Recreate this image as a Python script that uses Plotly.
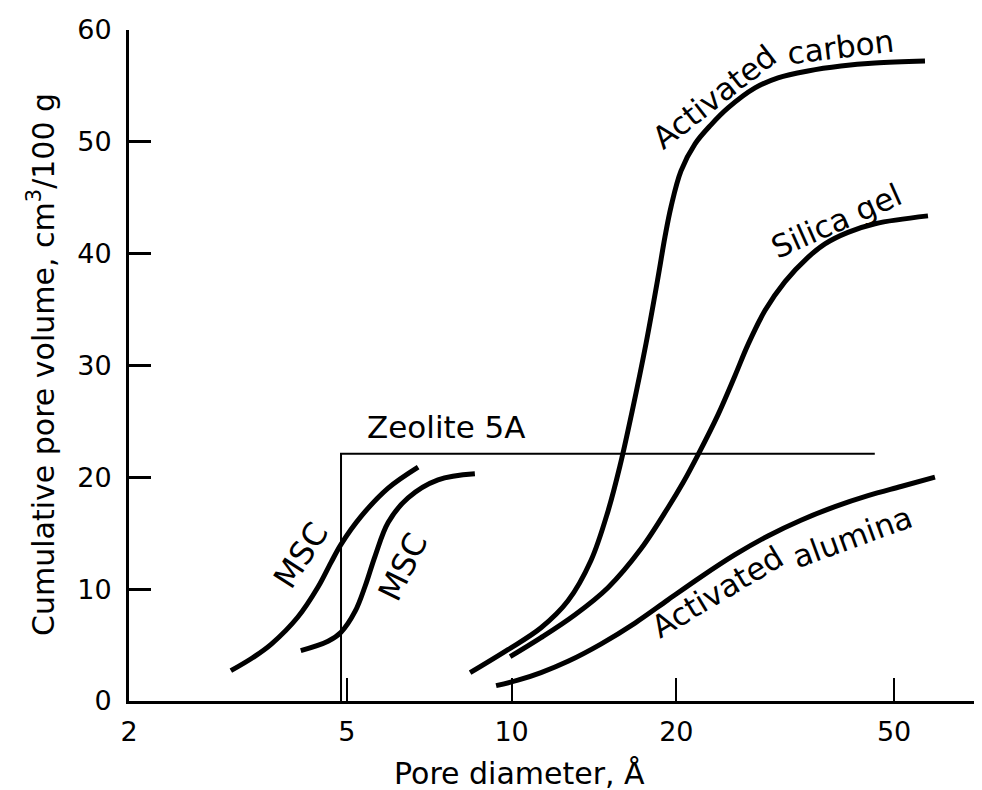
import math
import plotly.graph_objects as go

# ---- data (pore diameter in Å, cumulative pore volume in cm3/100 g) ----
msc1_x = [3.07, 3.37, 3.64, 4.07, 4.43, 4.68, 4.88, 5.31, 5.95, 6.75]
msc1_y = [2.71, 3.89, 5.09, 7.51, 10.19, 12.40, 14.01, 16.51, 19.04, 20.92]

msc2_x = [4.12, 4.62, 4.88, 5.18, 5.40, 5.63, 5.95, 6.47, 7.34, 8.57]
msc2_y = [4.50, 5.34, 6.15, 8.03, 10.26, 12.94, 15.96, 18.17, 19.78, 20.32]

carbon_x = [8.40, 9.85, 11.32, 12.68, 13.96, 15.00, 15.78, 16.60, 17.61, 18.52,
            19.07, 19.56, 20.40, 21.64, 23.14, 24.86, 27.85, 30.68, 34.80, 39.99,
            46.14, 56.94]
carbon_y = [2.53, 4.59, 6.55, 8.96, 12.54, 16.95, 21.02, 25.85, 31.98, 37.88,
            41.51, 44.19, 47.40, 49.82, 51.52, 53.03, 54.82, 55.72, 56.34, 56.78,
            57.05, 57.23]

silica_x = [9.94, 11.32, 13.06, 15.00, 17.24, 19.31, 20.57, 21.91, 23.83, 25.60,
            27.04, 29.04, 31.60, 34.80, 37.38, 41.18, 46.14, 57.66]
silica_y = [3.96, 5.66, 7.71, 10.13, 13.61, 17.28, 19.51, 22.01, 25.59, 29.09,
            31.87, 34.91, 37.50, 39.67, 40.88, 41.91, 42.68, 43.38]

alumina_x = [9.37, 10.27, 11.32, 12.68, 14.56, 16.81, 19.31, 22.19, 25.60, 29.41,
             33.79, 38.99, 44.80, 51.47, 59.38]
alumina_y = [1.37, 1.86, 2.54, 3.55, 5.09, 6.97, 9.04, 11.10, 13.08, 14.76,
             16.17, 17.38, 18.36, 19.18, 20.02]

zeolite_x = [4.88, 4.88, 46.1]
zeolite_y = [0, 22.1, 22.1]

x_ticks = [2, 5, 10, 20, 50]
x_tick_labels = ["2", "5", "10", "20", "50"]
y_ticks = [0, 10, 20, 30, 40, 50, 60]

FONT = "DejaVu Sans"

fig = go.Figure()

curve_style = dict(color="black", width=5, shape="spline", smoothing=1.0)
for xs, ys in [(msc1_x, msc1_y), (msc2_x, msc2_y), (carbon_x, carbon_y),
               (silica_x, silica_y), (alumina_x, alumina_y)]:
    fig.add_trace(go.Scatter(x=xs, y=ys, mode="lines", line=curve_style,
                             hoverinfo="skip", showlegend=False))

fig.add_trace(go.Scatter(x=zeolite_x, y=zeolite_y, mode="lines",
                         line=dict(color="black", width=2),
                         hoverinfo="skip", showlegend=False))

W, H = 982, 790
L, R, T, B = 121, 0, 22, 97
pw, ph = W - L - R, H - T - B


def px(xp):
    return (xp - L) / pw


def py(yp):
    return (H - B - yp) / ph


labels = [
    ("Zeolite 5A", 438.7, 419, 0, 31),
    ("MSC", 293.3, 547.3, -57, 32),
    ("MSC", 395, 559, -64, 32),
    ("Activated", 706, 89, -38, 31),
    ("carbon", 832, 39, -7, 31),
    ("Silica gel", 828, 213, -24, 31),
    ("Activated", 709, 584, -31, 31),
    ("alumina", 844, 529, -20, 31),
]
annotations = []
for text, x0, y0, ang, fs in labels:
    annotations.append(dict(text=text, x=px(x0), y=py(y0), xref="paper", yref="paper",
                            xanchor="center", yanchor="middle", showarrow=False,
                            textangle=ang, font=dict(family=FONT, size=fs, color="black")))

annotations.append(dict(text="Pore diameter, Å", x=px(511), y=py(765), xref="paper", yref="paper",
                        xanchor="center", yanchor="middle", showarrow=False,
                        font=dict(family=FONT, size=30, color="black")))
annotations.append(dict(text="Cumulative pore volume, cm<sup>3</sup>/100 g", x=px(33), y=py(357),
                        xref="paper", yref="paper", xanchor="center", yanchor="middle",
                        showarrow=False, textangle=-90,
                        font=dict(family=FONT, size=30, color="black")))

fig.update_layout(
    width=W, height=H, autosize=False,
    margin=dict(l=L, r=R, t=T, b=B, pad=0),
    paper_bgcolor="white", plot_bgcolor="white",
    font=dict(family=FONT, size=27, color="black"),
    annotations=annotations,
    xaxis=dict(type="log", range=[math.log10(2), 1.8742],
               tickvals=x_ticks, ticktext=x_tick_labels,
               ticks="inside", ticklen=23, tickwidth=2, tickcolor="black",
               showline=True, linewidth=3, linecolor="black",
               showgrid=False, zeroline=False, ticklabelstandoff=5,
               tickfont=dict(family=FONT, size=27, color="black")),
    yaxis=dict(range=[0, 60], tickvals=y_ticks,
               ticks="inside", ticklen=22, tickwidth=2.5, tickcolor="black",
               showline=True, linewidth=3, linecolor="black",
               showgrid=False, zeroline=False, ticklabelstandoff=9,
               tickfont=dict(family=FONT, size=27, color="black")),
)

fig.write_html("out.html")
